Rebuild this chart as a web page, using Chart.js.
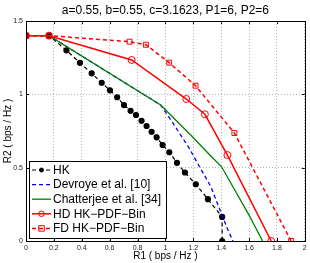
<!DOCTYPE html>
<html>
  <script src="https://cdn.jsdelivr.net/npm/chart.js"></script>
  <body style="margin:0; background:#fff">
    <canvas id="myChart" width="310" height="263"></canvas>

    <script>
      const ctx = document.getElementById('myChart');

      var titleText = "a=0.55, b=0.55, c=3.1623, P1=6, P2=6";
      var xTicks = [0, 0.2, 0.4, 0.6, 0.8, 1, 1.2, 1.4, 1.6, 1.8, 2];
      var yTicks = [0, 0.5, 1, 1.5];

      // HK
      var hkR1 = [0, 0.165, 0.29, 0.387, 0.471, 0.543, 0.602, 0.654, 0.703, 0.75, 0.789, 0.829, 0.865, 0.901, 0.937, 0.98, 1.028, 1.083, 1.14, 1.218, 1.305, 1.407, 1.407];
      var hkR2 = [1.4, 1.4, 1.3, 1.215, 1.143, 1.079, 1.027, 0.98, 0.927, 0.888, 0.859, 0.82, 0.784, 0.745, 0.707, 0.654, 0.605, 0.533, 0.467, 0.387, 0.285, 0.164, 0];
      // Devroye et al. [10]
      var devR1 = [0, 0.165, 0.966, 1.05, 1.164, 1.326, 1.439, 1.484];
      var devR2 = [1.4, 1.4, 0.927, 0.81, 0.643, 0.37, 0.097, 0];
      // Chatterjee et al. [34]
      var chR1 = [0, 0.165, 0.966, 1.176, 1.319, 1.403, 1.606, 1.697];
      var chR2 = [1.4, 1.4, 0.927, 0.728, 0.586, 0.506, 0.166, 0];
      // HD HK-PDF-Bin
      var hdR1 = [0, 0.165, 0.758, 1.15, 1.283, 1.445, 1.759];
      var hdR2 = [1.4, 1.4, 1.234, 0.968, 0.864, 0.586, 0];
      // FD HK-PDF-Bin
      var fdR1 = [0, 0.165, 0.743, 0.86, 1.027, 1.216, 1.495, 1.902];
      var fdR2 = [1.4, 1.4, 1.359, 1.338, 1.216, 1.059, 0.736, 0];

      function pts(xs, ys) {
        return xs.map(function (x, i) { return { x: x, y: ys[i] }; });
      }

      const FONT = "'Liberation Sans', Arial, sans-serif";

      // title, box, inward ticks and the legend box, matlab style
      const matlabLook = {
        id: 'matlabLook',
        afterDraw(chart) {
          const c = chart.ctx;
          const a = chart.chartArea;
          const xs = chart.scales.x, ys = chart.scales.y;
          c.save();
          c.strokeStyle = '#000';
          c.lineWidth = 1;
          c.beginPath();
          xTicks.forEach(function (t) {
            const px = Math.round(xs.getPixelForValue(t)) + 0.5;
            c.moveTo(px, a.bottom); c.lineTo(px, a.bottom - 3);
            c.moveTo(px, a.top); c.lineTo(px, a.top + 3);
          });
          yTicks.forEach(function (t) {
            const py = Math.round(ys.getPixelForValue(t)) + 0.5;
            c.moveTo(a.left, py); c.lineTo(a.left + 3, py);
            c.moveTo(a.right, py); c.lineTo(a.right - 3, py);
          });
          c.stroke();
          c.strokeRect(Math.round(a.left) + 0.5, Math.round(a.top) + 0.5,
                       Math.round(a.right - a.left), Math.round(a.bottom - a.top));

          // title
          c.fillStyle = '#000';
          c.font = '12px ' + FONT;
          c.textAlign = 'center';
          c.textBaseline = 'middle';
          c.fillText(titleText, (a.left + a.right) / 2, 11);

          // legend
          const lx = 29.5, ly = 161.5, lw = 137, lh = 77;
          c.fillStyle = '#fff';
          c.fillRect(lx, ly, lw, lh);
          c.strokeStyle = '#000';
          c.strokeRect(lx, ly, lw, lh);
          c.font = '12px ' + FONT;
          c.textAlign = 'left';
          chart.data.datasets.forEach(function (ds, i) {
            const y = 170 + i * 14.6;
            c.strokeStyle = ds.borderColor;
            c.lineWidth = ds.borderWidth;
            c.setLineDash(ds.borderDash || []);
            c.beginPath();
            c.moveTo(32, y); c.lineTo(51, y);
            c.stroke();
            c.setLineDash([]);
            if (ds.pointRadius > 0) {
              c.lineWidth = 1;
              c.fillStyle = ds.pointBackgroundColor;
              c.beginPath();
              if (ds.pointStyle === 'rect') {
                c.rect(41.5 - ds.pointRadius * 0.8, y - ds.pointRadius * 0.8, ds.pointRadius * 1.6, ds.pointRadius * 1.6);
              } else {
                c.arc(41.5, y, ds.pointRadius * 0.8, 0, Math.PI * 2);
              }
              c.fill();
              c.stroke();
            }
            c.fillStyle = '#000';
            c.fillText(ds.label, 53, y + 0.5);
          });
          c.restore();
        }
      };

      new Chart(ctx, {
        type: "line",
        data: {
          datasets: [
            {
              label: "HK",
              data: pts(hkR1, hkR2),
              borderColor: "#000",
              borderWidth: 1.2,
              borderDash: [4, 3],
              pointRadius: 2.5,
              pointBackgroundColor: "#000",
              pointBorderColor: "#000",
              order: 4,
            },
            {
              label: "Devroye et al. [10]",
              data: pts(devR1, devR2),
              borderColor: "#0000ff",
              borderWidth: 1.3,
              borderDash: [4, 3],
              pointRadius: 0,
              order: 3,
            },
            {
              label: "Chatterjee et al. [34]",
              data: pts(chR1, chR2),
              borderColor: "#008000",
              borderWidth: 1.3,
              pointRadius: 0,
              order: 2,
            },
            {
              label: "HD HK\u2212PDF\u2212Bin",
              data: pts(hdR1, hdR2),
              borderColor: "#ff0000",
              borderWidth: 1.5,
              pointRadius: 3.5,
              pointBorderWidth: 1,
              pointBackgroundColor: "rgba(255,255,255,0)",
              pointBorderColor: "#ff0000",
              order: 1,
            },
            {
              label: "FD HK\u2212PDF\u2212Bin",
              data: pts(fdR1, fdR2),
              borderColor: "#ff0000",
              borderWidth: 1.5,
              borderDash: [4, 3],
              pointStyle: "rect",
              pointRadius: 3.5,
              pointBorderWidth: 1,
              pointBackgroundColor: "rgba(255,255,255,0)",
              pointBorderColor: "#ff0000",
              order: 0,
            },
          ],
        },
        options: {
          responsive: false,
          animation: false,
          layout: { padding: { top: 21, right: 5, left: 0, bottom: 0 } },
          plugins: {
            legend: { display: false },
            title: { display: false },
            tooltip: { enabled: false },
          },
          elements: { line: { tension: 0 } },
          scales: {
            x: {
              type: "linear",
              min: 0,
              max: 2,
              afterFit: function (s) { s.height = 22; },
              afterBuildTicks: function (s) { s.ticks = xTicks.map(function (v) { return { value: v }; }); },
              grid: { color: "#b4b4b4", drawTicks: false },
              border: { display: false, dash: [1, 2] },
              ticks: {
                padding: 3,
                color: "#222",
                font: { size: 7, family: FONT },
                callback: function (v) { return String(v); },
              },
              title: {
                display: true,
                text: "R1 ( bps / Hz )",
                color: "#000",
                font: { size: 10, family: FONT },
                padding: { top: 0, bottom: 1 },
              },
            },
            y: {
              type: "linear",
              min: 0,
              max: 1.5,
              afterFit: function (s) { s.width = 26; },
              afterBuildTicks: function (s) { s.ticks = yTicks.map(function (v) { return { value: v }; }); },
              grid: { color: "#b4b4b4", drawTicks: false },
              border: { display: false, dash: [1, 2] },
              ticks: {
                padding: 3,
                color: "#222",
                font: { size: 7, family: FONT },
                callback: function (v) { return String(v); },
              },
              title: {
                display: true,
                text: "R2 ( bps / Hz )",
                color: "#000",
                font: { size: 10, family: FONT },
                padding: { top: 2, bottom: 0 },
              },
            },
          },
        },
        plugins: [matlabLook],
      });
    </script>
  </body>
</html>
